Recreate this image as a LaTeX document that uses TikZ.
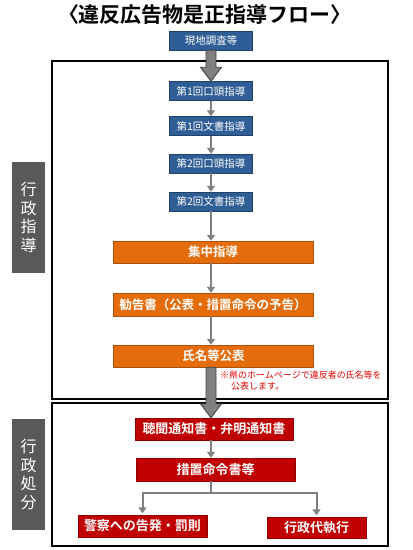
\documentclass[tikz,border=0pt]{standalone}
\usepackage{fontspec}
\setmainfont{Noto Sans CJK JP}[BoldFont={Noto Sans CJK JP Bold}]
\usetikzlibrary{arrows.meta,calc}

\definecolor{flowblue}{HTML}{2F5D95}
\definecolor{floworange}{HTML}{E46C0A}
\definecolor{flowred}{HTML}{C00000}
\definecolor{labelgray}{HTML}{595959}
\definecolor{linegray}{HTML}{808080}
\definecolor{arrowedge}{HTML}{3F3F3F}
\definecolor{notered}{HTML}{E00000}

\tikzset{
  bluebox/.style={draw=flowblue!70!black, fill=flowblue, text=white,
    minimum width=83pt, minimum height=19pt, inner sep=0pt,
    font=\fontsize{10.5}{10.5}\selectfont},
  orangebox/.style={draw=floworange!75!black, fill=floworange, text=white,
    minimum width=200pt, minimum height=22pt, inner sep=0pt,
    font=\fontsize{12.5}{12.5}\selectfont\bfseries},
  redbox/.style={draw=flowred!75!black, fill=flowred, text=white,
    minimum height=22pt, inner sep=0pt,
    font=\fontsize{13}{13}\selectfont\bfseries},
  sidelabel/.style={fill=labelgray, text=white, minimum width=33pt,
    minimum height=111pt, inner sep=0pt, align=center,
    font=\fontsize{16}{18.5}\selectfont},
  flow/.style={draw=linegray, line width=2pt,
    -{Triangle[width=8pt,length=6pt]}},
  bigarrow/.style={draw=arrowedge, fill=linegray, line width=0.8pt},
  frame/.style={draw=black, line width=2pt}
}

% broad arrow between two nodes, tip on the second one
\newcommand{\blockarrow}[2]{%
  \draw[bigarrow] ($(#1)+(-5,0)$) -- ($(#1 |- #2)+(-5,-14)$)
    -- ($(#1 |- #2)+(-10.5,-14)$) -- (#1 |- #2)
    -- ($(#1 |- #2)+(10.5,-14)$) -- ($(#1 |- #2)+(5,-14)$)
    -- ($(#1)+(5,0)$) -- cycle;}

\begin{document}
\begin{tikzpicture}[x=1pt, y=-1pt]
    \useasboundingbox (0,0) rectangle (413,550);
    \node (title) at (205,15) {\fontsize{21}{21}\selectfont\bfseries 〈違反広告物是正指導フロー〉};

    % the two frames
    \draw[frame] (52,61) rectangle (388,399);
    \draw[frame] (52,403) rectangle (388,546);

    \node[sidelabel] (shido) at (28.5,217.5) {行\\政\\指\\導};
    \node[sidelabel] (shobun) at (28.5,474.5) {行\\政\\処\\分};

    \node[bluebox] (chousa) at (211,40.5) {現地調査等};
    \node[bluebox] (kou1) at (211,91) {第1回口頭指導};
    \node[bluebox] (bun1) at (211,126) {第1回文書指導};
    \node[bluebox] (kou2) at (211,163.5) {第2回口頭指導};
    \node[bluebox] (bun2) at (211,201.5) {第2回文書指導};

    \node[orangebox] (shuchu) at (213,252) {集中指導};
    \node[orangebox, minimum height=23pt] (kankoku) at (213,304.5) {勧告書（公表・措置命令の予告）};
    \node[orangebox] (kohyo) at (213.5,356) {氏名等公表};

    \node[anchor=north west, align=left, text=notered, inner sep=0pt,
      font=\fontsize{9}{10.5}\selectfont] (note) at (220,371)
      {※県のホームページで違反者の氏名等を\\\hspace*{11pt}公表します。};

    \node[redbox, minimum width=158pt] (choumon) at (214,429) {聴聞通知書・弁明通知書};
    \node[redbox, minimum width=159pt, minimum height=23pt] (sochi) at (215.5,469.5) {措置命令書等};
    \node[redbox, minimum width=129pt] (keisatsu) at (142.5,526) {警察への告発・罰則};
    \node[redbox, minimum width=99pt, minimum height=21pt] (daishikkou) at (316.5,527.5) {行政代執行};

    \coordinate (kohyoout) at (kohyo.south -| bun2.south);
    \coordinate (branch) at ($(sochi.south -| bun2.south)+(0,12)$);

    \blockarrow{chousa.south}{kou1.north}
    \draw[flow] (kou1) -- (bun1);
    \draw[flow] (bun1) -- (kou2);
    \draw[flow] (kou2) -- (bun2);
    \draw[flow] (bun2.south) -- (bun2.south |- shuchu.north);
    \draw[flow] (shuchu.south -| bun2.south) -- (bun2.south |- kankoku.north);
    \draw[flow] (kankoku.south -| bun2.south) -- (bun2.south |- kohyo.north);
    \blockarrow{kohyoout}{choumon.north}
    \draw[flow] (choumon.south -| bun2.south) -- (bun2.south |- sochi.north);
    \draw[flow, -] (sochi.south -| bun2.south) -- (branch);
    \draw[flow, shorten >=1.5pt] (branch) -| (keisatsu.north);
    \draw[flow, shorten >=1.5pt] (branch) -| (daishikkou.north);
\end{tikzpicture}
\end{document}
